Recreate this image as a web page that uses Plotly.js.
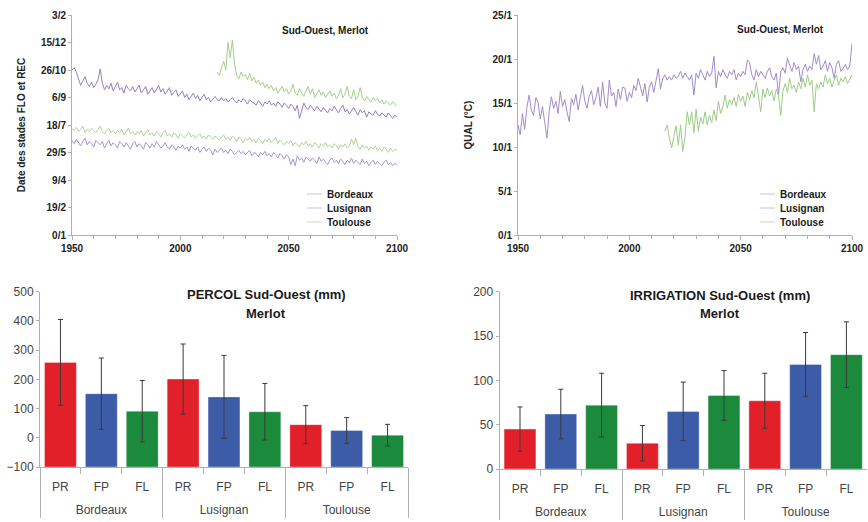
<!DOCTYPE html>
<html><head><meta charset="utf-8">
<script src="https://cdn.plot.ly/plotly-3.0.1.min.js"></script>
<style>html,body{margin:0;padding:0;background:#fff}#chart{width:868px;height:522px}</style>
</head><body><div id="chart"></div>
<script>
// ---------- DATA ----------
// Top-left: phenological dates (day of year), FLO (flowering) and REC (harvest)
const recLusignanStart = 1950;
const recLusignan = [
300,304,296,285,272,280,288,276,270,278,
268,274,282,302,276,264,272,266,276,262,
270,278,264,268,258,272,266,262,270,260,
266,272,258,264,270,256,262,268,258,264,
272,260,266,256,262,268,254,260,264,252,
258,262,250,256,246,252,258,248,254,244,
250,256,246,250,242,248,252,246,244,250,
244,248,242,246,250,244,240,246,242,248,
244,238,246,242,240,236,244,240,234,242,
238,244,236,240,234,242,238,232,240,236,
230,238,234,226,236,212,228,240,232,228,
236,230,226,234,228,224,232,226,222,230,
226,234,228,222,230,236,224,228,220,226,
232,224,218,228,222,226,214,224,220,218,
226,220,216,222,218,214,222,216,212,218,
214];
const floLusignanStart = 1950;
const floLusignan = [
172,166,174,168,162,170,176,164,170,166,
160,172,168,164,170,158,166,172,162,168,
164,158,170,166,160,168,162,156,166,170,
160,166,162,156,168,164,158,166,160,170,
164,158,162,168,160,156,164,160,154,162,
158,164,156,160,152,162,158,154,160,150,
156,160,152,158,154,146,156,150,154,158,
150,154,148,156,152,146,150,154,148,152,
146,150,154,144,150,148,142,150,146,152,
144,148,142,150,146,140,148,144,138,146,
142,128,138,126,144,136,140,132,142,138,
134,140,136,130,142,134,138,132,128,136,
140,132,136,130,138,134,128,136,132,140,
130,136,132,128,138,130,134,126,132,136,
128,134,130,126,132,136,128,132,126,130,
128];
const floToulouseStart = 1950;
const floToulouse = [
194,190,196,188,192,198,186,192,188,194,
190,186,192,198,188,184,190,194,186,190,
184,190,186,192,182,188,194,184,188,182,
188,184,190,180,186,192,182,186,180,188,
184,178,186,190,180,184,178,186,182,176,
184,180,176,182,186,178,182,176,180,184,
176,180,174,182,178,174,180,176,172,178,
182,174,178,172,180,176,170,178,174,168,
176,172,178,170,174,168,176,172,166,174,
170,176,168,172,178,166,172,168,164,170,
166,172,162,168,164,160,168,164,170,162,
166,160,168,164,158,166,162,168,160,164,
158,166,162,156,164,160,166,158,162,174,
164,176,160,156,164,158,162,154,160,156,
162,154,158,152,160,156,150,158,152,156,
154];
const recToulouseStart = 2017;
const recToulouse = [
296,290,304,316,300,350,322,354,312,290,
284,296,288,292,282,294,280,286,276,282,
272,278,268,274,266,272,262,268,258,264,
270,260,266,256,262,274,258,254,266,258,
252,262,270,256,266,250,258,264,254,260,
250,256,262,252,258,248,254,266,250,256,
270,252,248,264,246,252,268,250,244,252,
246,242,250,244,248,240,246,238,244,240,
236,242,238,234];
const dateTickVals = [0,50,100,150,200,250,300,350,400];
const dateTickText = ['0/1','19/2','9/4','29/5','18/7','6/9','26/10','15/12','3/2'];

// Top-right: QUAL (°C)
const qualBordeauxStart = 1950;
const qualBordeaux = [
12.5,11.4,13.8,12.0,14.5,15.9,14.2,13.6,15.6,15.1,
13.2,14.6,12.8,11.0,14.0,15.7,14.4,15.2,13.8,16.3,
14.6,15.4,14.0,12.9,15.5,14.8,16.0,14.2,15.6,17.0,
15.2,14.4,15.8,16.4,14.8,15.6,16.8,14.6,17.4,15.0,
14.4,17.6,15.8,16.2,14.6,16.6,15.4,16.8,16.7,15.2,
16.2,15.6,17.0,16.4,17.8,16.6,15.8,17.2,15.1,16.8,
17.4,16.2,17.6,18.9,16.6,17.8,18.2,17.6,18.0,17.6,
18.2,17.8,18.0,18.6,17.8,18.4,18.0,17.6,18.2,15.9,
18.4,17.8,18.8,18.2,17.6,18.6,18.0,18.4,20.3,16.7,
18.6,18.0,18.8,18.2,17.8,18.6,18.2,18.8,17.6,18.4,
18.0,18.6,18.2,19.9,19.6,18.2,17.6,18.8,18.0,18.6,
18.2,17.8,18.6,19.0,18.0,17.6,18.4,15.9,18.6,19.0,
18.4,20.1,19.3,18.6,19.6,18.8,19.2,17.4,18.8,19.4,
18.6,19.2,18.8,20.6,19.4,20.4,18.8,19.2,19.8,18.6,
19.6,19.0,17.8,19.4,19.8,18.6,18.9,19.4,18.8,19.2,
21.8];
const qualToulouseStart = 2016;
const qualToulouse = [
11.8,12.5,11.0,9.9,11.2,12.4,10.2,12.5,9.5,11.2,
14.0,12.5,14.0,11.6,14.3,11.8,13.4,12.6,14.0,12.5,
13.6,12.8,14.2,13.0,15.2,13.8,14.6,15.9,14.4,15.4,
14.8,15.6,14.6,16.0,15.2,15.8,14.6,16.2,15.4,16.4,
15.6,17.4,15.8,14.0,16.6,15.6,16.7,15.8,16.4,15.2,
16.6,15.8,13.6,16.4,17.2,16.2,17.8,16.6,17.0,16.2,
17.4,16.6,17.8,16.8,18.2,17.0,17.6,14.0,17.2,16.6,
17.4,16.8,18.2,17.2,17.8,16.8,17.6,18.2,17.0,17.8,
17.4,18.0,17.2,17.8,18.2];
const qualTickVals = [0,5,10,15,20,25];
const qualTickText = ['0/1','5/1','10/1','15/1','20/1','25/1'];

// Bottom charts
const sites = ['Bordeaux','Lusignan','Toulouse'];
const treatments = ['PR','FP','FL'];
const treatmentColors = ['#e2202a','#3d5ca8','#1b8a3c'];
const percolMean = [258,151,91, 201,140,89, 45,25,9];
const percolErr  = [147,122,105, 120,142,97, 65,44,37];
const irrigMean  = [45,62,72, 29,65,83, 77,118,129];
const irrigErr   = [25,28,36, 20,33,28, 31,36,37];
const legendNames = ['Bordeaux','Lusignan','Toulouse'];

// ---------- BUILD ----------
const W = 868, H = 522;
const fx = v => v / W;
const fy = v => 1 - v / H;
const FONT = 'Liberation Sans, Arial, sans-serif';
const yearsOf = (start, arr) => arr.map((_, i) => start + i);

// outer (site) labels get a leading line break so they sit lower, as in the original
const groupX = [], catX = [], barColors = [];
sites.forEach(s => treatments.forEach((t, j) => { groupX.push('<br>' + s); catX.push(t); barColors.push(treatmentColors[j]); }));

const percolFloor = -100;
const irrigFloor = 0;

const lineTrace = (start, arr, color, xa, ya, name) => ({
  type: 'scatter', mode: 'lines', x: yearsOf(start, arr), y: arr, name: name,
  line: {color: color, width: 1}, xaxis: xa, yaxis: ya, showlegend: false, hoverinfo: 'skip'
});

const traces = [
  lineTrace(recLusignanStart, recLusignan, '#9580c4', 'x', 'y', 'REC Lusignan'),
  lineTrace(floLusignanStart, floLusignan, '#a794d0', 'x', 'y', 'FLO Lusignan'),
  lineTrace(floToulouseStart, floToulouse, '#aed49a', 'x', 'y', 'FLO Toulouse'),
  lineTrace(recToulouseStart, recToulouse, '#a2d08c', 'x', 'y', 'REC Toulouse'),
  lineTrace(qualBordeauxStart, qualBordeaux, '#a08ccc', 'x2', 'y2', 'QUAL Bordeaux'),
  lineTrace(qualToulouseStart, qualToulouse, '#9ccd86', 'x2', 'y2', 'QUAL Toulouse'),
  {
    type: 'bar', x: [groupX, catX], y: percolMean.map(v => v - percolFloor), base: percolFloor,
    marker: {color: barColors, line: {color: 'rgba(255,255,255,0.35)', width: 1}},
    error_y: {type: 'data', array: percolErr, color: '#3a3a3a', thickness: 1, width: 2.5},
    xaxis: 'x3', yaxis: 'y3', showlegend: false, hoverinfo: 'skip'
  },
  {
    type: 'bar', x: [groupX, catX], y: irrigMean.map(v => v - irrigFloor), base: irrigFloor,
    marker: {color: barColors, line: {color: 'rgba(255,255,255,0.35)', width: 1}},
    error_y: {type: 'data', array: irrigErr, color: '#3a3a3a', thickness: 1, width: 2.5},
    xaxis: 'x4', yaxis: 'y4', showlegend: false, hoverinfo: 'skip'
  }
];

const topTickFont = {family: FONT, size: 10, color: '#222', weight: 'bold'};
const botTickFont = {family: FONT, size: 12, color: '#444'};
const axLine = '#b0b0b0';

const yearAxis = (dom, anchor) => ({
  domain: dom, anchor: anchor, range: [1950, 2100], tickvals: [1950, 2000, 2050, 2100],
  ticks: 'outside', ticklen: 4, tickcolor: axLine, showline: true, linecolor: axLine,
  minor: {dtick: 10, tick0: 1950, ticks: 'outside', ticklen: 3, tickcolor: axLine},
  showgrid: false, zeroline: false, tickfont: topTickFont, fixedrange: true
});

const catAxis = (dom, anchor) => ({
  domain: dom, anchor: anchor, type: 'multicategory', showline: true, linecolor: axLine,
  ticks: 'outside', tickson: 'boundaries', ticklen: 6, tickcolor: axLine,
  ticklabelstandoff: 9,
  showdividers: true, dividercolor: axLine, dividerwidth: 1,
  tickfont: botTickFont, showgrid: false, zeroline: false
});

const layout = {
  width: W, height: H, margin: {l: 0, r: 0, t: 0, b: 0},
  paper_bgcolor: '#fff', plot_bgcolor: 'rgba(0,0,0,0)', showlegend: false,
  bargap: 0.22,
  font: {family: FONT},
  xaxis: yearAxis([fx(72), fx(397)], 'y'),
  yaxis: {
    domain: [fy(235), fy(15)], anchor: 'x', range: [0, 400], tickvals: dateTickVals, ticktext: dateTickText,
    ticks: 'outside', ticklen: 3, tickcolor: axLine, showline: true, linecolor: axLine,
    showgrid: false, zeroline: false, tickfont: topTickFont,
    title: {text: 'Date des stades FLO et REC', font: {family: FONT, size: 10, color: '#222', weight: 'bold'}, standoff: 13}
  },
  xaxis2: yearAxis([fx(518), fx(852)], 'y2'),
  yaxis2: {
    domain: [fy(235), fy(15)], anchor: 'x2', range: [0, 25], tickvals: qualTickVals, ticktext: qualTickText,
    ticks: 'outside', ticklen: 3, tickcolor: axLine, showline: true, linecolor: axLine,
    showgrid: false, zeroline: false, tickfont: topTickFont,
    title: {text: 'QUAL (°C)', font: {family: FONT, size: 10, color: '#222', weight: 'bold'}, standoff: 18}
  },
  xaxis3: catAxis([fx(40), fx(408)], 'y3'),
  yaxis3: {
    domain: [fy(467), fy(291.7)], anchor: 'x3', range: [-100, 500], dtick: 100,
    ticks: 'outside', ticklen: 3, tickcolor: axLine, showline: true, linecolor: axLine,
    showgrid: false, zeroline: false, tickfont: botTickFont
  },
  xaxis4: catAxis([fx(499.6), fx(866.8)], 'y4'),
  yaxis4: {
    domain: [fy(469), fy(291.7)], anchor: 'x4', range: [0, 200], dtick: 50,
    ticks: 'outside', ticklen: 3, tickcolor: axLine, showline: true, linecolor: axLine,
    showgrid: false, zeroline: false, tickfont: botTickFont
  },
  annotations: [],
  shapes: []
};

const ann = (text, x, y, size, anchor) => ({
  text: text, x: fx(x), y: fy(y), xref: 'paper', yref: 'paper', showarrow: false,
  xanchor: anchor || 'center', yanchor: 'middle',
  font: {family: FONT, size: size, color: '#1a1a1a', weight: 'bold'}
});
layout.annotations.push(ann('Sud-Ouest, Merlot', 325, 30, 10));
layout.annotations.push(ann('Sud-Ouest, Merlot', 780, 29, 10));
layout.annotations.push(ann('PERCOL Sud-Ouest (mm)', 266, 294, 13));
layout.annotations.push(ann('Merlot', 266, 313, 13));
layout.annotations.push(ann('IRRIGATION Sud-Ouest (mm)', 720, 295, 13));
layout.annotations.push(ann('Merlot', 720, 313, 13));

// manual legends (faint line samples + bold labels)
const legendColors = ['#cdc6da', '#c9c2d8', '#c8d6c2'];
const legendRows = [194, 208, 222];
[[307, 322, 325], [760, 775, 778]].forEach(([x0, x1, tx]) => {
  legendNames.forEach((nm, i) => {
    layout.shapes.push({type: 'line', xref: 'paper', yref: 'paper', x0: fx(x0), x1: fx(x1),
      y0: fy(legendRows[i]), y1: fy(legendRows[i]), line: {color: legendColors[i], width: 1}});
    layout.annotations.push(ann(nm, tx, legendRows[i], 10, 'left'));
  });
});

Plotly.newPlot('chart', traces, layout, {staticPlot: true, displayModeBar: false});
</script>
</body></html>
